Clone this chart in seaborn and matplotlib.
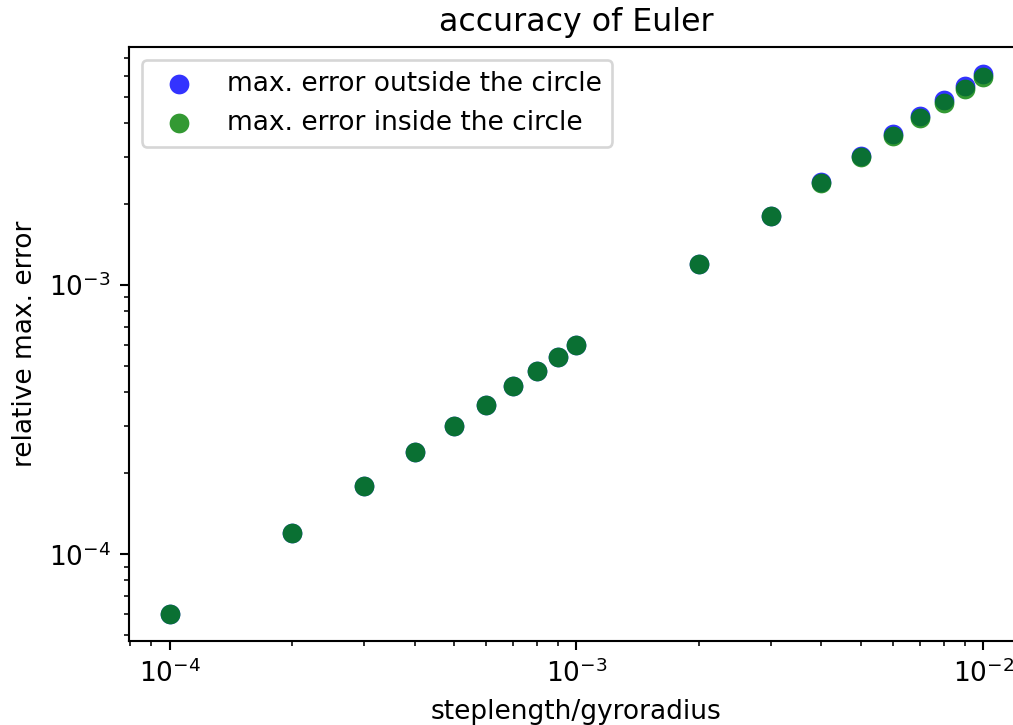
import matplotlib
matplotlib.use("Agg")
import matplotlib.pyplot as plt
import seaborn as sns
import pandas as pd

steplength = [1e-4, 2e-4, 3e-4, 4e-4, 5e-4, 6e-4, 7e-4, 8e-4, 9e-4, 1e-3,
              2e-3, 3e-3, 4e-3, 5e-3, 6e-3, 7e-3, 8e-3, 9e-3, 1e-2]
err_outside = [6.0e-5, 1.2e-4, 1.8e-4, 2.4e-4, 3.0e-4, 3.6e-4, 4.2e-4, 4.8e-4, 5.401e-4, 6.002e-4,
               1.2015e-3, 1.8025e-3, 2.406e-3, 3.015e-3, 3.625e-3, 4.235e-3, 4.85e-3, 5.465e-3, 6.08e-3]
err_inside = [6.0e-5, 1.2e-4, 1.8e-4, 2.4e-4, 3.0e-4, 3.6e-4, 4.2e-4, 4.8e-4, 5.399e-4, 5.998e-4,
              1.1985e-3, 1.7975e-3, 2.390e-3, 2.985e-3, 3.575e-3, 4.165e-3, 4.75e-3, 5.335e-3, 5.92e-3]
labels = ["max. error outside the circle", "max. error inside the circle"]
colors = ["blue", "green"]

df_out = pd.DataFrame({"h": steplength, "err": err_outside})
df_in = pd.DataFrame({"h": steplength, "err": err_inside})

dpi = 190
fig = plt.figure(figsize=(1013 / dpi, 725 / dpi), dpi=dpi)
ax = fig.add_axes([129 / 1013, 84 / 725, (1024 - 129) / 1013, (641 - 47) / 725])

sns.scatterplot(data=df_out, x="h", y="err", ax=ax, color=colors[0], alpha=0.8,
                s=56, linewidth=0, label=labels[0])
sns.scatterplot(data=df_in, x="h", y="err", ax=ax, color=colors[1], alpha=0.8,
                s=56, linewidth=0, label=labels[1])
ax.set_xscale("log")
ax.set_yscale("log")
ax.set_xlabel("steplength/gyroradius")
ax.set_ylabel("relative max. error")
ax.set_title("accuracy of Euler")
ax.legend(loc="upper left")

fig.savefig("out.png", dpi=dpi)
